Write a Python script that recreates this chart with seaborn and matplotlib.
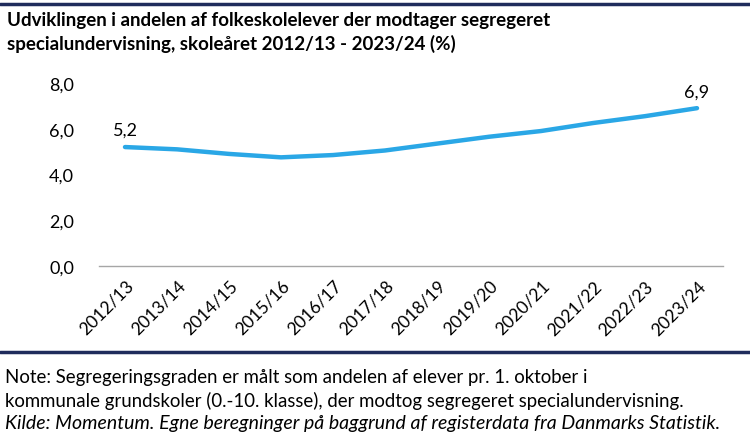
import matplotlib
matplotlib.use("Agg")
import matplotlib.pyplot as plt
import seaborn as sns
import pandas as pd
from matplotlib.lines import Line2D

years = ["2012/13", "2013/14", "2014/15", "2015/16", "2016/17", "2017/18",
         "2018/19", "2019/20", "2020/21", "2021/22", "2022/23", "2023/24"]
values = [5.2, 5.1, 4.9, 4.75, 4.85, 5.05, 5.35, 5.65, 5.9, 6.25, 6.55, 6.9]
yticks = [0, 2, 4, 6, 8]

title = ("Udviklingen i andelen af folkeskolelever der modtager segregeret\n"
         "specialundervisning, skoleåret 2012/13 - 2023/24 (%)")
note1 = "Note: Segregeringsgraden er målt som andelen af elever pr. 1. oktober i"
note2 = "kommunale grundskoler (0.-10. klasse), der modtog segregeret specialundervisning."
source = "Kilde: Momentum. Egne beregninger på baggrund af registerdata fra Danmarks Statistik."

sns.set_style("white")
plt.rcParams['font.family'] = ['Lato', 'DejaVu Sans']
plt.rcParams['text.color'] = 'black'
plt.rcParams['xtick.color'] = 'black'
plt.rcParams['ytick.color'] = 'black'

W, H = 750, 439
fig = plt.figure(figsize=(W / 100, H / 100), dpi=100)

def fx(px):
    return px / W

def fy(py):
    return 1 - py / H

ax = fig.add_axes([fx(99), fy(267), fx(723 - 99), (267 - 84) / H])

df = pd.DataFrame({"year": years, "value": values})
sns.lineplot(data=df, x="year", y="value", ax=ax, color="#2aa7e6", lw=3.2,
             solid_capstyle="round", sort=False)

ax.set_xlim(-0.5, len(years) - 0.5)
ax.set_ylim(0, 8)
ax.set_yticks(yticks)
ax.set_yticklabels([f"{v:.1f}".replace(".", ",") for v in yticks], fontsize=13)
ax.set_xticks(range(len(years)))
ax.set_xticklabels(years, rotation=45, ha="right", va="top", rotation_mode="anchor",
                   fontsize=12.6)
ax.set_xticks([i - 0.5 for i in range(len(years) + 1)], minor=True)
ax.tick_params(axis="x", which="major", length=0, pad=8)
ax.tick_params(axis="x", which="minor", length=6, color="#a6a6a6", width=1, direction="out")
ax.tick_params(axis="y", length=0, pad=18)
ax.set_xlabel("")
ax.set_ylabel("")
for s in ["top", "right", "left"]:
    ax.spines[s].set_visible(False)
ax.spines["bottom"].set_color("#a6a6a6")
ax.spines["bottom"].set_linewidth(1)
ax.grid(False)

for i in [0, len(values) - 1]:
    ax.annotate(f"{values[i]:.1f}".replace(".", ","), (i, values[i]),
                xytext=(0, 6.5), textcoords="offset points", ha="center", va="bottom",
                fontsize=13)

navy = "#1f2c5c"
fig.add_artist(Line2D([0, 1], [fy(5), fy(5)], color=navy, lw=2.5, transform=fig.transFigure))
fig.add_artist(Line2D([0, 1], [fy(353), fy(353)], color=navy, lw=2.5, transform=fig.transFigure))

fig.text(fx(7), fy(12), title, ha="left", va="top", fontsize=13.5, fontweight="bold",
         linespacing=1.4)
fig.text(fx(5), fy(378), note1, ha="left", va="center", fontsize=13.4)
fig.text(fx(5), fy(401), note2, ha="left", va="center", fontsize=13.4)
fig.text(fx(5), fy(424), source, ha="left", va="center", fontsize=14, style="italic")

fig.savefig("out.png", dpi=100)
